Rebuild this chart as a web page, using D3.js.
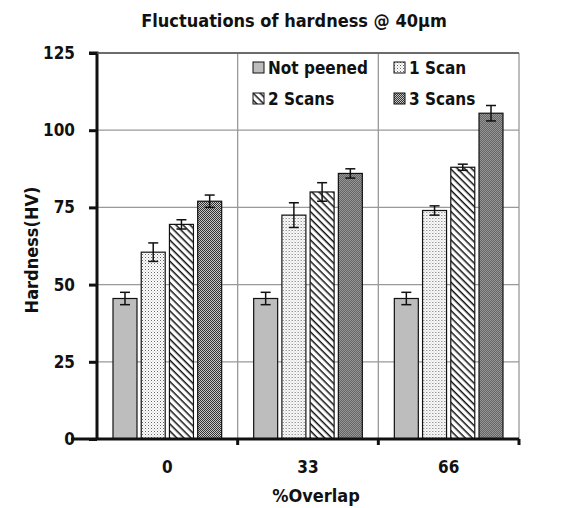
<!DOCTYPE html>
<html>
<head>
<meta charset="utf-8">
<script src="https://cdn.jsdelivr.net/npm/d3@7"></script>
<style>
	body { margin: 0; background: #fff; }
	text { font-family: "DejaVu Sans Condensed", "DejaVu Sans", sans-serif; font-weight: bold; fill: #111; }
</style>
</head>
<body>
<svg width="565" height="508"></svg>
<script>
var categories = ["0", "33", "66"];
var seriesNames = ["Not peened", "1 Scan", "2 Scans", "3 Scans"];
var notPeened = [45.5, 45.5, 45.5];
var oneScan = [60.5, 72.5, 74];
var twoScans = [69.5, 80, 88];
var threeScans = [77, 86, 105.5];
var notPeenedErr = [2, 2, 2];
var oneScanErr = [3, 4, 1.5];
var twoScansErr = [1.5, 3, 1];
var threeScansErr = [2, 1.5, 2.5];
var yTicks = [0, 25, 50, 75, 100, 125];

var values = [notPeened, oneScan, twoScans, threeScans];
var errors = [notPeenedErr, oneScanErr, twoScansErr, threeScansErr];

var svg = d3.select("svg");
var margin = {left: 97, right: 46, top: 53, bottom: 69};
var width = 565 - margin.left - margin.right;
var height = 508 - margin.top - margin.bottom;

// patterns
var defs = svg.append("defs");
var p1 = defs.append("pattern").attr("id", "pat1").attr("patternUnits", "userSpaceOnUse")
	.attr("width", 3).attr("height", 3);
p1.append("rect").attr("width", 3).attr("height", 3).attr("fill", "#fff");
p1.append("rect").attr("width", 1).attr("height", 1).attr("fill", "#666");
p1.append("rect").attr("x", 1.5).attr("y", 1.5).attr("width", 1).attr("height", 1).attr("fill", "#aaa");
var p2 = defs.append("pattern").attr("id", "pat2").attr("patternUnits", "userSpaceOnUse")
	.attr("width", 5).attr("height", 5).attr("patternTransform", "rotate(45)");
p2.append("rect").attr("width", 5).attr("height", 5).attr("fill", "#fff");
p2.append("rect").attr("width", 5).attr("height", 1.5).attr("fill", "#111");
var p3 = defs.append("pattern").attr("id", "pat3").attr("patternUnits", "userSpaceOnUse")
	.attr("width", 2).attr("height", 2);
p3.append("rect").attr("width", 2).attr("height", 2).attr("fill", "#c8c8c8");
p3.append("rect").attr("width", 1).attr("height", 1).attr("fill", "#333");
p3.append("rect").attr("x", 1).attr("y", 1).attr("width", 1).attr("height", 1).attr("fill", "#333");
var fills = ["#bdbdbd", "url(#pat1)", "url(#pat2)", "url(#pat3)"];

var g = svg.append("g").attr("transform", "translate(" + margin.left + "," + margin.top + ")");

var x = d3.scaleBand().domain(categories).range([0, width]);
var x1 = d3.scaleBand().domain(seriesNames).range([16, x.bandwidth() - 16]).paddingInner(0.15);
var y = d3.scaleLinear().domain([0, 125]).range([height, 0]);

// grid
g.selectAll("line.hgrid").data(yTicks.slice(1)).enter().append("line")
	.attr("x1", 0).attr("x2", width)
	.attr("y1", d => y(d)).attr("y2", d => y(d))
	.attr("stroke", "#999").attr("stroke-width", 1.3);
g.selectAll("line.vgrid").data(categories.slice(1).concat(["end"])).enter().append("line")
	.attr("x1", d => d === "end" ? width : x(d)).attr("x2", d => d === "end" ? width : x(d))
	.attr("y1", 0).attr("y2", height)
	.attr("stroke", "#999").attr("stroke-width", 1.3);

// bars
var groups = g.selectAll("g.grp").data(categories).enter().append("g")
	.attr("transform", d => "translate(" + x(d) + ",0)");

groups.each(function(cat, ci) {
	var grp = d3.select(this);
	seriesNames.forEach(function(s, si) {
		var v = values[si][ci], e = errors[si][ci];
		grp.append("rect")
			.attr("x", x1(s)).attr("width", x1.bandwidth())
			.attr("y", y(v)).attr("height", y(0) - y(v))
			.attr("fill", fills[si]).attr("stroke", "#111").attr("stroke-width", 1.2);
		var cx = x1(s) + x1.bandwidth() / 2;
		grp.append("line").attr("x1", cx).attr("x2", cx)
			.attr("y1", y(v + e)).attr("y2", y(v - e)).attr("stroke", "#111").attr("stroke-width", 1.5);
		[v + e, v - e].forEach(function(t) {
			grp.append("line").attr("x1", cx - 5).attr("x2", cx + 5)
				.attr("y1", y(t)).attr("y2", y(t)).attr("stroke", "#111").attr("stroke-width", 1.5);
		});
	});
});

// axes
var yAxis = g.append("g").call(d3.axisLeft(y).tickValues(yTicks).tickSize(8).tickPadding(14));
yAxis.select(".domain").attr("stroke", "#111").attr("stroke-width", 3).attr("d", "M-8," + y(125) + "H0V" + y(0));
yAxis.selectAll(".tick line").attr("stroke", "#111").attr("stroke-width", 3);
yAxis.selectAll("text").style("font-size", "17px").style("font-family", null).attr("fill", "#111");

var xAxis = g.append("g").attr("transform", "translate(0," + height + ")")
	.call(d3.axisBottom(x).tickSize(0).tickPadding(22));
xAxis.select(".domain").attr("stroke", "#111").attr("stroke-width", 3).attr("d", "M-26,0H" + width);
xAxis.selectAll("text").style("font-size", "17px").style("font-family", null).attr("fill", "#111");
g.selectAll("line.xtick").data(categories.slice(1).concat(["end"])).enter().append("line")
	.attr("x1", d => d === "end" ? width : x(d)).attr("x2", d => d === "end" ? width : x(d))
	.attr("y1", height).attr("y2", height + 6).attr("stroke", "#111").attr("stroke-width", 3);

// plot border top
g.append("line").attr("x1", 0).attr("x2", width).attr("y1", 0).attr("y2", 0)
	.attr("stroke", "#555").attr("stroke-width", 1.3);

// titles
svg.append("text").attr("x", 294).attr("y", 27).attr("text-anchor", "middle")
	.style("font-size", "18px").text("Fluctuations of hardness @ 40\u03bcm");
svg.append("text").attr("x", 316).attr("y", 502).attr("text-anchor", "middle")
	.style("font-size", "18px").text("%Overlap");
svg.append("text").attr("transform", "translate(38,250) rotate(-90)").attr("text-anchor", "middle")
	.style("font-size", "18px").text("Hardness(HV)");

// legend
var legendPos = [[253, 68], [394, 68], [253, 99], [394, 99]];
seriesNames.forEach(function(s, i) {
	var lg = svg.append("g").attr("transform", "translate(" + legendPos[i][0] + "," + legendPos[i][1] + ")");
	lg.append("rect").attr("x", 0).attr("y", -6).attr("width", 11).attr("height", 11)
		.attr("fill", fills[i]).attr("stroke", "#111").attr("stroke-width", 1);
	lg.append("text").attr("x", 15).attr("y", 6).style("font-size", "17px").text(s);
});
</script>
</body>
</html>
